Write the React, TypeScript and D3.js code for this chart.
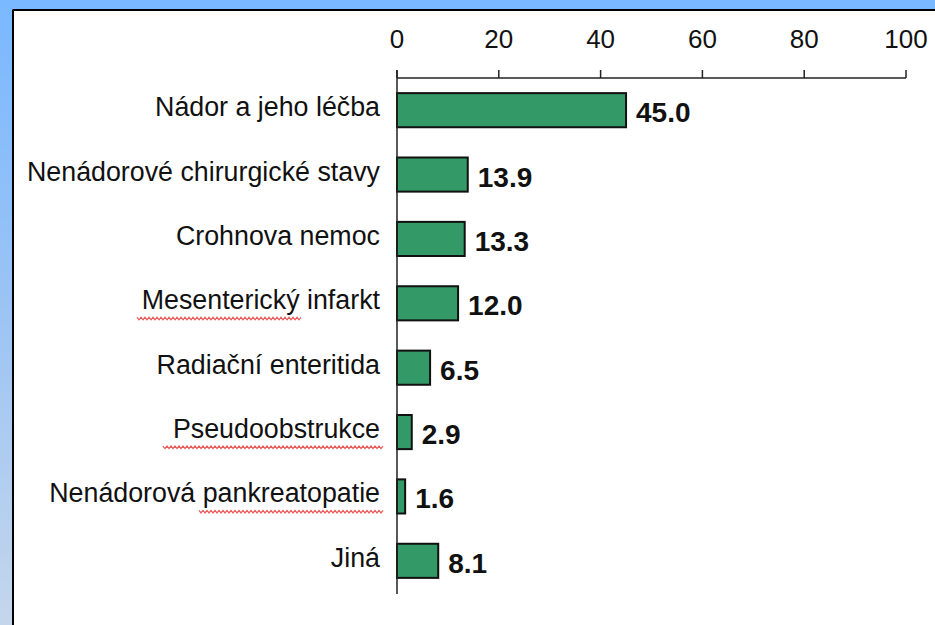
import React from 'react';
import * as d3 from 'd3';

const categories = [
  'Nádor a jeho léčba',
  'Nenádorové chirurgické stavy',
  'Crohnova nemoc',
  'Mesenterický infarkt',
  'Radiační enteritida',
  'Pseudoobstrukce',
  'Nenádorová pankreatopatie',
  'Jiná',
];
const values = [45.0, 13.9, 13.3, 12.0, 6.5, 2.9, 1.6, 8.1];
const tickValues = [0, 20, 40, 60, 80, 100];

const W = 935;
const H = 625;

export default function App() {
  const x = d3.scaleLinear().domain([0, 100]).range([397, 906]);
  const y = d3
    .scaleBand<string>()
    .domain(categories)
    .range([78, 593])
    .paddingInner(0.47)
    .paddingOuter(0.235);
  const bw = y.bandwidth();
  const mid = (c: string) => (y(c) as number) + bw / 2;

  // red spell-check squiggle
  const wave = (x0: number, x1: number, yy: number) => {
    let p = `M${x0},${yy}`;
    for (let xx = x0; xx < x1; xx += 4) {
      p += ` L${xx + 2},${yy + 2.5} L${xx + 4},${yy}`;
    }
    return p;
  };

  return (
    <div style={{ position: 'fixed', left: 0, top: 0, width: W, height: H }}>
      <svg width={W} height={H} style={{ display: 'block' }}>
        <defs>
          <linearGradient id="side" x1="0" y1="0" x2="0" y2="1">
            <stop offset="0" stopColor="#7ab8ff" />
            <stop offset="0.5" stopColor="#9cc4f4" />
            <stop offset="1" stopColor="#c4d6ec" />
          </linearGradient>
        </defs>
        <rect width={W} height={H} fill="url(#side)" />
        <rect width={W} height={10} fill="#7ab8ff" />
        <rect x={13} y={10} width={W - 13} height={H - 10} fill="#fff" />
        <line x1={12.5} x2={W} y1={10} y2={10} stroke="#000" strokeWidth={2} />
        <line x1={13} x2={13} y1={10} y2={H} stroke="#000" strokeWidth={2} />

        <g fontFamily="Liberation Sans, Arial, sans-serif" fill="#111">
          {/* top axis */}
          <line x1={x(0)} x2={x(100)} y1={78} y2={78} stroke="#222" strokeWidth={1.5} />
          {tickValues.map((t) => (
            <g key={t}>
              <line x1={x(t)} x2={x(t)} y1={70} y2={78} stroke="#222" strokeWidth={1.5} />
              <text x={x(t)} y={48} textAnchor="middle" fontSize={26}>
                {t}
              </text>
            </g>
          ))}

          {categories.map((c, i) => (
            <g key={c}>
              <rect
                x={x(0)}
                y={y(c)}
                width={x(values[i]) - x(0)}
                height={bw}
                fill="#339966"
                stroke="#111"
                strokeWidth={2}
              />
              <text x={380} y={mid(c) + 6} textAnchor="end" fontSize={26.8}>
                {c}
              </text>
              <text x={x(values[i]) + 10} y={mid(c) + 12} fontSize={28} fontWeight="bold">
                {values[i].toFixed(1)}
              </text>
            </g>
          ))}

          <line x1={x(0)} x2={x(0)} y1={70} y2={594} stroke="#222" strokeWidth={1.5} />
        </g>

        <g fill="none" stroke="#e85a5a" strokeWidth={1.2}>
          <path d={wave(137, 300, mid('Mesenterický infarkt') + 14)} />
          <path d={wave(163, 382, mid('Pseudoobstrukce') + 14)} />
          <path d={wave(199, 382, mid('Nenádorová pankreatopatie') + 14)} />
        </g>
      </svg>
    </div>
  );
}
